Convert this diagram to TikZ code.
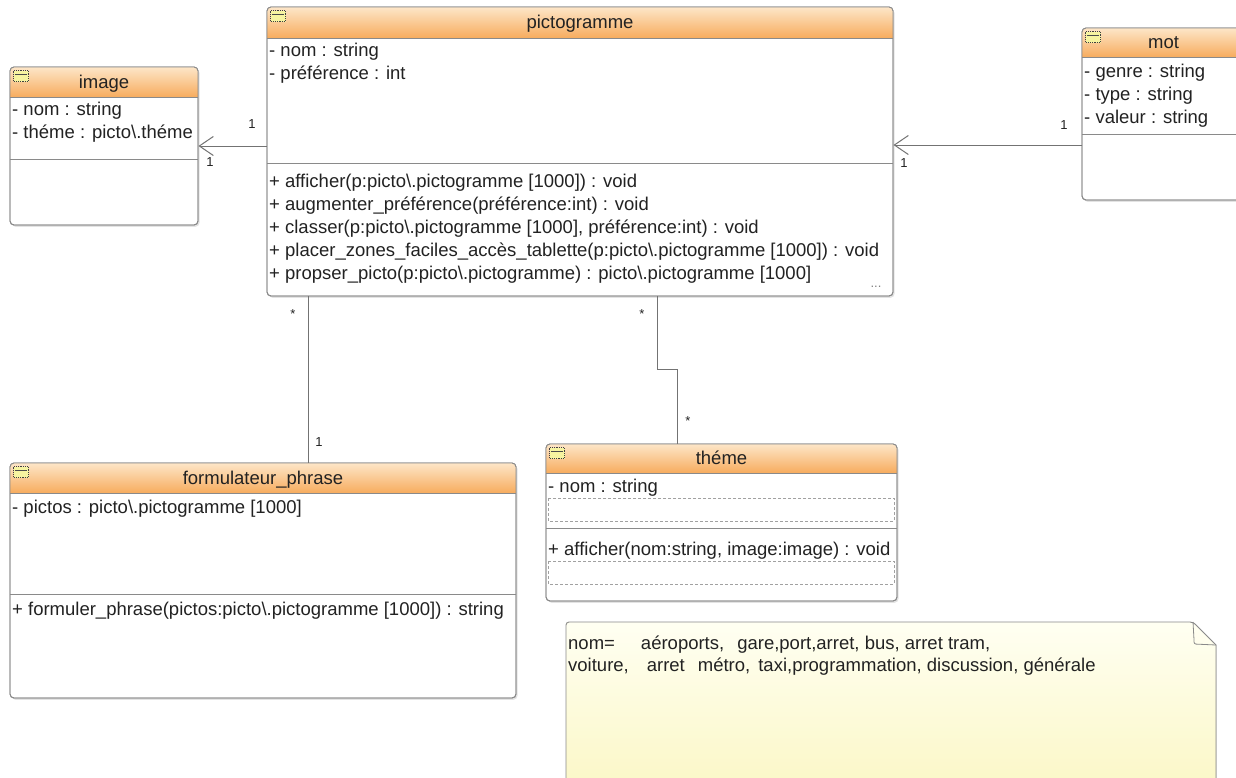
\documentclass[tikz,border=0pt]{standalone}
\usepackage{fontspec}
\setmainfont{Liberation Sans}
\usetikzlibrary{arrows.meta,shadows,fit}
\definecolor{linegray}{HTML}{737373}
\definecolor{boxgray}{HTML}{8A8A8A}
\definecolor{hdtop}{HTML}{FDE6C8}
\definecolor{hdbot}{HTML}{F7AC5E}
\definecolor{notetop}{HTML}{FFFFF2}
\definecolor{notebot}{HTML}{FBF7C6}
\definecolor{icony}{HTML}{F6F4A0}
\definecolor{textc}{HTML}{222222}
\tikzset{
  classbox/.style={draw=boxgray, line width=0.9pt, rounded corners=4pt, fill=white, inner sep=0pt,
     drop shadow={shadow xshift=1.5pt, shadow yshift=-1.8pt, opacity=0.22}},
  hdshade/.style={top color=hdtop, bottom color=hdbot},
  divline/.style={draw=boxgray, line width=0.9pt},
  iconbox/.style={draw=black!75, fill=icony, line width=0.6pt, dash pattern=on 1.2pt off 1pt, minimum width=15pt, minimum height=11pt, inner sep=0pt},
  titletext/.style={font=\fontsize{18.5}{21}\selectfont, text=textc, inner sep=0pt, anchor=base},
  member/.style={font=\fontsize{18.5}{21}\selectfont, text=textc, inner sep=0pt, anchor=base west},
  mult/.style={font=\fontsize{13}{14}\selectfont, text=textc, inner sep=0pt},
  assoc/.style={draw=linegray, line width=1pt},
  openarrow/.style={-{Straight Barb[length=14pt,width=19pt,line width=1pt]}},
  dashbox/.style={draw=boxgray!80, line width=0.6pt, dash pattern=on 3pt off 2pt},
  notetext/.style={font=\fontsize{18.5}{21}\selectfont, text=textc, inner sep=0pt, anchor=base west},
}
\newcommand\umlclass[7]{%
  \node[classbox, fit={(#2,#3) (#4,#5)}] (#1) {};
  \begin{scope}
    \clip[rounded corners=4pt] (#2,#3) rectangle (#4,#5);
    \fill[hdshade] (#2,#3) rectangle (#4,#6);
  \end{scope}
  \draw[divline] (#2,#6) -- (#4,#6);
  \draw[draw=boxgray, line width=0.9pt, rounded corners=4pt] (#2,#3) rectangle (#4,#5);
  \node[titletext] (#1-t) at ({(#2+#4)/2},{(#3+#6)/2+6}) {#7};
  \node[iconbox] (#1-i) at ({#2+11},{#3+9}) {};
  \draw[black!70, line width=0.5pt] ({#2+5},{#3+7.5}) -- ({#2+17},{#3+7.5});
}
\begin{document}
\begin{tikzpicture}[x=1pt,y=-1pt]
\useasboundingbox (0,0) rectangle (1236,777);
\fill[white] (0,0) rectangle (1236,777);

% note
\fill[top color=notetop, bottom color=notebot] (566,622) -- (1193,622) -- (1216,645) -- (1216,790) -- (566,790) -- cycle;
\draw[boxgray, line width=0.9pt] (566,790) -- (566,626) [rounded corners=3pt] -- (566,622) -- (1193,622) [sharp corners] -- (1216,645) -- (1216,790);
\draw[boxgray, line width=0.8pt] (1193,622) -- (1194,640) [rounded corners=2pt] -- (1194,644) -- (1216,645);
\node[fit={(566,622) (1216,777)}, inner sep=0pt] (note) {};
\node[notetext] (nt1) at (568,649) {nom=\hspace{26pt}aéroports,\hspace{13pt}gare,port,arret, bus, arret tram,};
\node[notetext] (nt2) at (568,671) {voiture,\hspace{18pt}arret\hspace{13pt}métro,\hspace{8pt}taxi,programmation, discussion, générale};

% pictogramme
\umlclass{picto}{267}{7}{893}{296}{38}{pictogramme}
\draw[divline] (267,163) -- (893,163);
\node[member] (p-a1) at (269,56) {- nom : string};
\node[member] (p-a2) at (269,79) {- préférence : int};
\node[member] (p-m1) at (269,187) {+ afficher(p:picto\textbackslash.pictogramme [1000]) : void};
\node[member] (p-m2) at (269,210) {+ augmenter\_préférence(préférence:int) : void};
\node[member] (p-m3) at (269,233) {+ classer(p:picto\textbackslash.pictogramme [1000], préférence:int) : void};
\node[member] (p-m4) at (269,256) {+ placer\_zones\_faciles\_accès\_tablette(p:picto\textbackslash.pictogramme [1000]) : void};
\node[member] (p-m5) at (269,279) {+ propser\_picto(p:picto\textbackslash.pictogramme) : picto\textbackslash.pictogramme [1000]};
\node[mult, text=black!50] (p-dots) at (876,287) {...};

% image
\umlclass{image}{10}{67}{198}{225}{97}{image}
\draw[divline] (10,159) -- (198,159);
\node[member] (i-a1) at (12,115) {- nom : string};
\node[member] (i-a2) at (12,138) {- théme : picto\textbackslash.théme};

% mot
\umlclass{mot}{1082}{28}{1245}{200}{57}{mot}
\draw[divline] (1082,134) -- (1245,134);
\node[member] (m-a1) at (1084,77) {- genre : string};
\node[member] (m-a2) at (1084,100) {- type : string};
\node[member] (m-a3) at (1084,123) {- valeur : string};

% formulateur_phrase
\umlclass{form}{10}{463}{516}{698}{493}{formulateur\_phrase}
\draw[divline] (10,594) -- (516,594);
\node[member] (f-a1) at (12,513) {- pictos : picto\textbackslash.pictogramme [1000]};
\node[member] (f-m1) at (12,615) {+ formuler\_phrase(pictos:picto\textbackslash.pictogramme [1000]) : string};

% theme
\umlclass{theme}{546}{444}{897}{601}{473}{théme}
\draw[divline] (546,528) -- (897,528);
\node[member] (t-a1) at (548,492) {- nom : string};
\draw[dashbox] (548,498) rectangle (894,521);
\node[member] (t-m1) at (548,555) {+ afficher(nom:string, image:image) : void};
\draw[dashbox] (548,561) rectangle (894,584);

% connectors
\draw[assoc, openarrow] (image.east -| picto.west) -- (image.east);
\node[mult] (l1) at (252,124) {1};
\node[mult] (l2) at (210,162) {1};

\coordinate (mA) at (1082,145);
\draw[assoc, openarrow] (mA) -- (mA -| picto.east);
\node[mult] (l3) at (1064,125) {1};
\node[mult] (l4) at (904,163) {1};

\coordinate (fA) at (308,463);
\draw[assoc] (fA |- picto.south) -- (fA |- form.north);
\node[mult] (l5) at (293,314) {*};
\node[mult] (l6) at (319,442) {1};

\coordinate (tA) at (657,369);
\coordinate (tB) at (677,369);
\draw[assoc] (tA |- picto.south) -- (tA) -- (tB) -- (tB |- theme.north);
\node[mult] (l7) at (642,314) {*};
\node[mult] (l8) at (688,421) {*};
\end{tikzpicture}
\end{document}
